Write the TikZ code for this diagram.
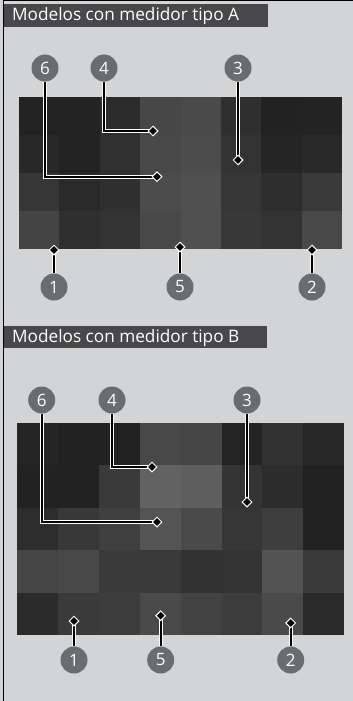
\documentclass[tikz,border=0pt]{standalone}
\usepackage{fontspec}
\setmainfont{Open Sans}
\usetikzlibrary{shapes.geometric}
\definecolor{bgc}{RGB}{211,212,214}
\definecolor{hdr}{RGB}{72,72,74}
\definecolor{callc}{RGB}{107,108,110}
\tikzset{
  callout/.style={circle,fill=callc,inner sep=0pt,minimum size=27pt,text=white,font=\fontsize{17}{17}\selectfont},
  hdrtext/.style={anchor=base west,text=white,inner sep=0pt,font=\fontsize{17.2}{18}\selectfont},
  leadw/.style={draw=white,line width=4pt},
  leadb/.style={draw=black,line width=2pt},
  tip/.style={diamond,fill=black,draw=white,line width=1pt,inner sep=0pt,minimum size=10pt},
}
\begin{document}
\begin{tikzpicture}[x=1pt,y=-1pt]
\useasboundingbox (0,0) rectangle (353,701);
\fill[bgc] (0,0) rectangle (353,701);
\draw[black,line width=1pt] (3.5,701) -- (3.5,1) -- (353,1);
% headers
\fill[hdr] (4,4) rectangle (268,27);
\node[hdrtext] (hA) at (12,21) {Modelos con medidor tipo A};
\fill[hdr] (4,326) rectangle (267,348);
\node[hdrtext] (hB) at (12,342) {Modelos con medidor tipo B};
% grid A
\foreach \vals [count=\r] in {{35,35,44,71,74,47,34,35},{40,35,48,72,76,51,37,41},{54,42,47,76,80,54,46,58},{68,47,51,72,80,56,51,72}}{
  \foreach \v [count=\c] in \vals {
    \definecolor{cc}{RGB}{\v,\v,\v}
    \fill[cc] ({19+(\c-1)*40.4},{96.7+(\r-1)*38.15}) rectangle ({19+\c*40.4},{96.7+\r*38.15});
  }
}
% grid B
\foreach \vals [count=\r] in {{37,34,34,72,70,36,50,40},{34,34,58,98,94,52,44,34},{45,56,63,84,74,54,62,34},{69,72,58,57,50,51,83,57},{43,58,60,74,66,60,74,42}}{
  \foreach \v [count=\c] in \vals {
    \definecolor{cc}{RGB}{\v,\v,\v}
    \fill[cc] ({17+(\c-1)*40.9},{422.7+(\r-1)*42.46}) rectangle ({17+\c*40.9},{422.7+\r*42.46});
  }
}
% callouts A
\node[callout] (a6) at (45,68) {6};
\node[callout] (a4) at (104,68) {4};
\node[callout] (a3) at (238,68) {3};
\node[callout] (a1) at (54,287) {1};
\node[callout] (a5) at (180,287) {5};
\node[callout] (a2) at (312,287) {2};
\coordinate (p6a) at (157,176.7);
\coordinate (p4a) at (153,131);
\coordinate (p3a) at (238,160);
\coordinate (p1a) at (54,250);
\coordinate (p5a) at (180,247);
\coordinate (p2a) at (312,250);
% callouts B
\node[callout] (b6) at (41.7,400) {6};
\node[callout] (b4) at (112,400) {4};
\node[callout] (b3) at (247,400) {3};
\node[callout] (b1) at (74,660) {1};
\node[callout] (b5) at (160.7,660) {5};
\node[callout] (b2) at (290.7,660) {2};
\coordinate (p6b) at (157,522);
\coordinate (p4b) at (152,467);
\coordinate (p3b) at (247,502);
\coordinate (p1b) at (74,621);
\coordinate (p5b) at (160.7,615.7);
\coordinate (p2b) at (290.7,623);
% leaders
\foreach \s in {leadw,leadb}{
  \path[\s] (a6.south) |- (p6a);
  \path[\s] (a4.south) |- (p4a);
  \path[\s] (a3.south) -- (p3a);
  \path[\s] (a1.north) -- (p1a);
  \path[\s] (a5.north) -- (p5a);
  \path[\s] (a2.north) -- (p2a);
  \path[\s] (b6.south) |- (p6b);
  \path[\s] (b4.south) |- (p4b);
  \path[\s] (b3.south) -- (p3b);
  \path[\s] (b1.north) -- (p1b);
  \path[\s] (b5.north) -- (p5b);
  \path[\s] (b2.north) -- (p2b);
}
\foreach \p in {p6a,p4a,p3a,p1a,p5a,p2a,p6b,p4b,p3b,p1b,p5b,p2b}{
  \node[tip] (d\p) at (\p) {};
}
\end{tikzpicture}
\end{document}
